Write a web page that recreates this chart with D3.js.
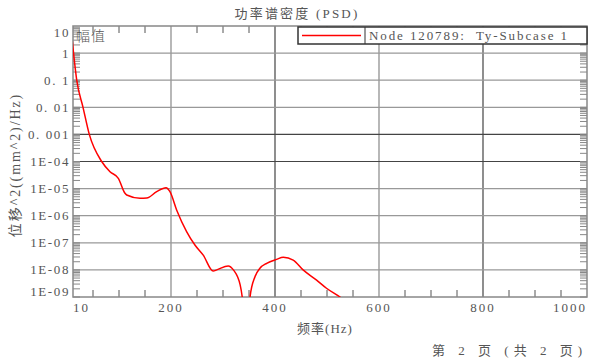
<!DOCTYPE html>
<html><head><meta charset="utf-8">
<script src="https://cdn.jsdelivr.net/npm/d3@7"></script>
<style>
body{margin:0;background:#fff;}
text{font-family:"Liberation Serif","Noto Sans CJK SC",serif;fill:#555;}
.cjk{font-family:"Noto Sans CJK SC",sans-serif;font-weight:300;}
</style></head><body>
<svg id="c" width="592" height="363"></svg>
<script>
// Data
const freq = [10, 18.7, 30.8, 42.9, 66.7, 82.7, 98.7, 111.5, 114.8, 140.4, 153.3, 172.5, 190.4, 198, 211, 230, 246, 262, 281, 288, 310, 320, 333, 337, 346, 352, 361.5, 371, 384, 403, 416, 435, 454, 480, 499, 525, 545];
const psd  = [3, 0.1, 0.01, 1e-3, 1e-4, 4.2e-5, 2.4e-5, 6.7e-6, 5.8e-6, 4.4e-6, 4.5e-6, 7.7e-6, 1.08e-5, 7.7e-6, 1.6e-6, 2.6e-7, 8.3e-8, 3.5e-8, 9.1e-9, 1e-8, 1.4e-8, 1e-8, 2.8e-9, 1e-9, 1e-11, 1e-9, 5.6e-9, 1.15e-8, 1.75e-8, 2.45e-8, 2.9e-8, 2.3e-8, 1e-8, 4.2e-9, 2.1e-9, 1e-9, 5e-10];
const xTicks = [10, 200, 400, 600, 800, 1000];
const yTicks = [10, 1, 0.1, 0.01, 0.001, 1e-4, 1e-5, 1e-6, 1e-7, 1e-8, 1e-9];
const yTickLabels = ["10", "1", "0. 1", "0. 01", "0. 001", "1E-04", "1E-05", "1E-06", "1E-07", "1E-08", "1E-09"];
const title = "功率谱密度 (PSD)";
const seriesName = "Node 120789:  Ty-Subcase 1";
const xTitle = "频率(Hz)";
const yTitle = "位移^2((mm^2)/Hz)";
const ampLabel = "幅值";
const footer = "第 2 页 (共 2 页)";

const svg = d3.select("#c");
const L = 73, R = 587, T = 26, B = 297;
const x = d3.scaleLinear().domain([0, 1000]).range([67, 587]);
const y = d3.scaleLog().domain([1e-9, 10]).range([B, T]);

svg.append("clipPath").attr("id", "clip").append("rect")
  .attr("x", L).attr("y", T).attr("width", R - L).attr("height", B - T);

// gridlines
const darkX = new Set([400, 800]);
[200, 400, 600, 800].forEach(v => {
  svg.append("line").attr("x1", x(v)).attr("x2", x(v)).attr("y1", T).attr("y2", B)
    .attr("stroke", darkX.has(v) ? "#444" : "#888").attr("stroke-width", 1.2);
});
const darkY = new Set([1e-3, 1e-4]);
yTicks.slice(1, -1).forEach(v => {
  svg.append("line").attr("x1", L).attr("x2", R).attr("y1", y(v)).attr("y2", y(v))
    .attr("stroke", darkY.has(v) ? "#444" : "#999").attr("stroke-width", 1.2);
});

// minor x ticks (every 50 Hz) top & bottom
const minorX = d3.range(50, 1000, 50).filter(v => v % 200 !== 0);
minorX.forEach(v => {
  svg.append("line").attr("x1", x(v)).attr("x2", x(v)).attr("y1", B).attr("y2", B - 7).attr("stroke", "#555").attr("stroke-width", 1);
  svg.append("line").attr("x1", x(v)).attr("x2", x(v)).attr("y1", T).attr("y2", T + 7).attr("stroke", "#555").attr("stroke-width", 1);
});
// minor y ticks (log) left & right
const minorY = [];
for (let e = -9; e < 1; e++) for (let m = 1; m <= 9; m++) minorY.push(m * Math.pow(10, e));
minorY.forEach(v => {
  const yy = y(v);
  if (yy < T || yy > B) return;
  svg.append("line").attr("x1", L).attr("x2", L + 7).attr("y1", yy).attr("y2", yy).attr("stroke", "#888").attr("stroke-width", 1);
  svg.append("line").attr("x1", R).attr("x2", R - 7).attr("y1", yy).attr("y2", yy).attr("stroke", "#888").attr("stroke-width", 1);
});

// frame
svg.append("rect").attr("x", L).attr("y", T).attr("width", R - L).attr("height", B - T)
  .attr("fill", "none").attr("stroke", "#888").attr("stroke-width", 1.5);

// curve
const line = d3.line().x((d, i) => x(freq[i])).y(d => y(d)).curve(d3.curveMonotoneX);
svg.append("path").datum(psd).attr("d", line).attr("clip-path", "url(#clip)")
  .attr("fill", "none").attr("stroke", "#f00").attr("stroke-width", 1.5);

// y tick labels
yTicks.forEach((v, i) => {
  const yy = Math.min(Math.max(y(v), 32), 291.5);
  svg.append("text").attr("x", 70).attr("y", yy).attr("dy", "0.35em").attr("text-anchor", "end")
    .attr("font-size", 13).attr("letter-spacing", 1.6).text(yTickLabels[i]);
});
// x tick labels
xTicks.forEach((v, i) => {
  const anchor = i === 0 ? "start" : (i === xTicks.length - 1 ? "end" : "middle");
  const xx = i === 0 ? L : x(v);
  svg.append("text").attr("x", xx).attr("y", 307).attr("dy", "0.35em").attr("text-anchor", anchor)
    .attr("font-size", 13).attr("letter-spacing", 2).text(v);
});

// legend
svg.append("rect").attr("x", 298).attr("y", 27).attr("width", 289).attr("height", 17)
  .attr("fill", "#fff").attr("stroke", "#333").attr("stroke-width", 1.5);
svg.append("line").attr("x1", 365).attr("x2", 365).attr("y1", 27).attr("y2", 44).attr("stroke", "#333").attr("stroke-width", 1);
svg.append("line").attr("x1", 302).attr("x2", 361).attr("y1", 35.5).attr("y2", 35.5).attr("stroke", "#f00").attr("stroke-width", 1.5);
svg.append("text").attr("x", 369).attr("y", 35.5).attr("dy", "0.35em").attr("font-size", 13)
  .attr("letter-spacing", 1.9).attr("xml:space", "preserve").text(seriesName);

// titles
svg.append("text").attr("x", 297).attr("y", 13).attr("dy", "0.35em").attr("text-anchor", "middle")
  .attr("font-size", 13).attr("letter-spacing", 2.2).text(title);
svg.append("text").attr("x", 76).attr("y", 36).attr("dy", "0.35em").attr("class", "cjk")
  .attr("font-size", 14).attr("letter-spacing", 1).text(ampLabel);
svg.append("text").attr("x", 325).attr("y", 328).attr("dy", "0.35em").attr("text-anchor", "middle")
  .attr("font-size", 13).attr("letter-spacing", 1).text(xTitle);
svg.append("text").attr("transform", "translate(15,165) rotate(-90)").attr("dy", "0.35em")
  .attr("text-anchor", "middle").attr("font-size", 14).attr("letter-spacing", 1.9).text(yTitle);
svg.append("text").attr("x", 587).attr("y", 350).attr("dy", "0.35em").attr("text-anchor", "end")
  .attr("font-size", 13).attr("letter-spacing", 5).text(footer);
</script></body></html>
